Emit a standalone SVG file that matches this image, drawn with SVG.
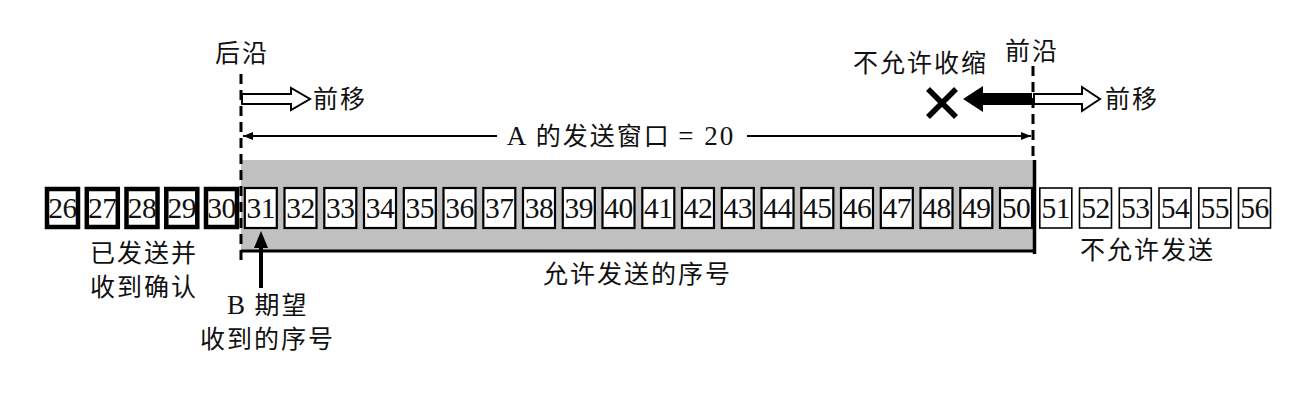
<svg xmlns="http://www.w3.org/2000/svg" width="1306" height="404" viewBox="0 0 1306 404">
<style>
.cjk{font-family:"Noto Sans CJK SC","Noto Sans",sans-serif;font-size:25px;letter-spacing:2px;fill:#111}
.num{font-family:"Liberation Serif","Times New Roman",serif;font-size:29.5px;fill:#111;text-anchor:middle;letter-spacing:-0.5px}
.ser{font-family:"Liberation Serif","Times New Roman",serif}
.sent{fill:#fff;stroke:#000;stroke-width:4.5}
.win{fill:#fff;stroke:#000;stroke-width:2.2}
.out{fill:#fff;stroke:#000;stroke-width:1.6}
.dash{stroke:#000;stroke-width:3;stroke-dasharray:10 6;fill:none}
.hollow{fill:#fff;stroke:#000;stroke-width:2;stroke-linejoin:miter}
</style>
<defs>
<marker id="ah" viewBox="0 0 10 10" refX="10" refY="5" markerWidth="10" markerHeight="10" markerUnits="userSpaceOnUse" orient="auto-start-reverse">
<path d="M0,1 L10,5 L0,9 Z" fill="#000"/>
</marker>
</defs>
<rect width="1306" height="404" fill="#fff"/>

<g id="window-area">
<rect x="241" y="160" width="793" height="91" fill="#c0c0c0"/>
<line x1="241" y1="251" x2="1036" y2="251" stroke="#000" stroke-width="3"/>
<line x1="1034.5" y1="160" x2="1034.5" y2="254" stroke="#000" stroke-width="3.5"/>
</g>

<g id="sent-boxes">
<rect class="sent" x="47" y="189" width="31" height="38"/><text class="num" x="62.5" y="218">26</text>
<rect class="sent" x="86.8" y="189" width="31" height="38"/><text class="num" x="102.3" y="218">27</text>
<rect class="sent" x="126.5" y="189" width="31" height="38"/><text class="num" x="142" y="218">28</text>
<rect class="sent" x="166.3" y="189" width="31" height="38"/><text class="num" x="181.8" y="218">29</text>
<rect class="sent" x="206" y="189" width="31" height="38"/><text class="num" x="221.5" y="218">30</text>
</g>

<g id="window-boxes">
<rect class="win" x="244.8" y="188" width="32" height="40"/><text class="num" x="260.8" y="218">31</text>
<rect class="win" x="284.5" y="188" width="32" height="40"/><text class="num" x="300.5" y="218">32</text>
<rect class="win" x="324.3" y="188" width="32" height="40"/><text class="num" x="340.3" y="218">33</text>
<rect class="win" x="364" y="188" width="32" height="40"/><text class="num" x="380" y="218">34</text>
<rect class="win" x="403.8" y="188" width="32" height="40"/><text class="num" x="419.8" y="218">35</text>
<rect class="win" x="443.5" y="188" width="32" height="40"/><text class="num" x="459.5" y="218">36</text>
<rect class="win" x="483.3" y="188" width="32" height="40"/><text class="num" x="499.3" y="218">37</text>
<rect class="win" x="523" y="188" width="32" height="40"/><text class="num" x="539" y="218">38</text>
<rect class="win" x="562.8" y="188" width="32" height="40"/><text class="num" x="578.8" y="218">39</text>
<rect class="win" x="602.5" y="188" width="32" height="40"/><text class="num" x="618.5" y="218">40</text>
<rect class="win" x="642.3" y="188" width="32" height="40"/><text class="num" x="658.3" y="218">41</text>
<rect class="win" x="682" y="188" width="32" height="40"/><text class="num" x="698" y="218">42</text>
<rect class="win" x="721.8" y="188" width="32" height="40"/><text class="num" x="737.8" y="218">43</text>
<rect class="win" x="761.5" y="188" width="32" height="40"/><text class="num" x="777.5" y="218">44</text>
<rect class="win" x="801.3" y="188" width="32" height="40"/><text class="num" x="817.3" y="218">45</text>
<rect class="win" x="841" y="188" width="32" height="40"/><text class="num" x="857" y="218">46</text>
<rect class="win" x="880.8" y="188" width="32" height="40"/><text class="num" x="896.8" y="218">47</text>
<rect class="win" x="920.5" y="188" width="32" height="40"/><text class="num" x="936.5" y="218">48</text>
<rect class="win" x="960.3" y="188" width="32" height="40"/><text class="num" x="976.3" y="218">49</text>
<rect class="win" x="1000" y="188" width="32" height="40"/><text class="num" x="1016" y="218">50</text>
</g>

<g id="unsent-boxes">
<rect class="out" x="1039.8" y="188" width="32" height="40"/><text class="num" x="1055.8" y="218">51</text>
<rect class="out" x="1079.5" y="188" width="32" height="40"/><text class="num" x="1095.5" y="218">52</text>
<rect class="out" x="1119.3" y="188" width="32" height="40"/><text class="num" x="1135.3" y="218">53</text>
<rect class="out" x="1159" y="188" width="32" height="40"/><text class="num" x="1175" y="218">54</text>
<rect class="out" x="1198.8" y="188" width="32" height="40"/><text class="num" x="1214.8" y="218">55</text>
<rect class="out" x="1238.5" y="188" width="32" height="40"/><text class="num" x="1254.5" y="218">56</text>
</g>

<g id="connectors">
<line class="dash" x1="241" y1="74" x2="241" y2="262"/>
<line class="dash" x1="1033" y1="66" x2="1033" y2="160"/>
<line x1="243" y1="136" x2="1031" y2="136" stroke="#000" stroke-width="2" marker-start="url(#ah)" marker-end="url(#ah)" stroke-dasharray="254 250 290"/>
<path class="hollow" d="M242,94 L291,94 L291,88 L310,99 L291,110 L291,104 L242,104 Z"/>
<path class="hollow" d="M1034,94 L1082,94 L1082,87 L1100,99 L1082,111 L1082,104 L1034,104 Z"/>
<path d="M1032,93 L983,93 L983,86 L963,99 L983,112 L983,105 L1032,105 Z" fill="#000"/>
<g stroke="#000" stroke-width="5.5" stroke-linecap="butt">
<line x1="928" y1="89" x2="956" y2="117"/>
<line x1="956" y1="89" x2="928" y2="117"/>
</g>
<line x1="261" y1="288" x2="261" y2="244" stroke="#000" stroke-width="4"/>
<path d="M261,231 L268,248 L254,248 Z" fill="#000"/>
</g>

<g id="labels">
<text class="cjk" x="215" y="62">后沿</text>
<text class="cjk" x="313" y="108">前移</text>
<text class="cjk" x="853" y="72">不允许收缩</text>
<text class="cjk" x="1005" y="60">前沿</text>
<text class="cjk" x="1105" y="108">前移</text>
<text class="cjk" x="621" y="145" text-anchor="middle"><tspan class="ser" font-size="27">A</tspan> 的发送窗口 <tspan class="ser" font-size="27">= 20</tspan></text>
<text class="cjk" x="90" y="262">已发送并</text>
<text class="cjk" x="90" y="296">收到确认</text>
<text class="cjk" x="227" y="314"><tspan class="ser" font-size="27">B</tspan> 期望</text>
<text class="cjk" x="200" y="348">收到的序号</text>
<text class="cjk" x="543" y="283">允许发送的序号</text>
<text class="cjk" x="1080" y="259">不允许发送</text>
</g>
</svg>
